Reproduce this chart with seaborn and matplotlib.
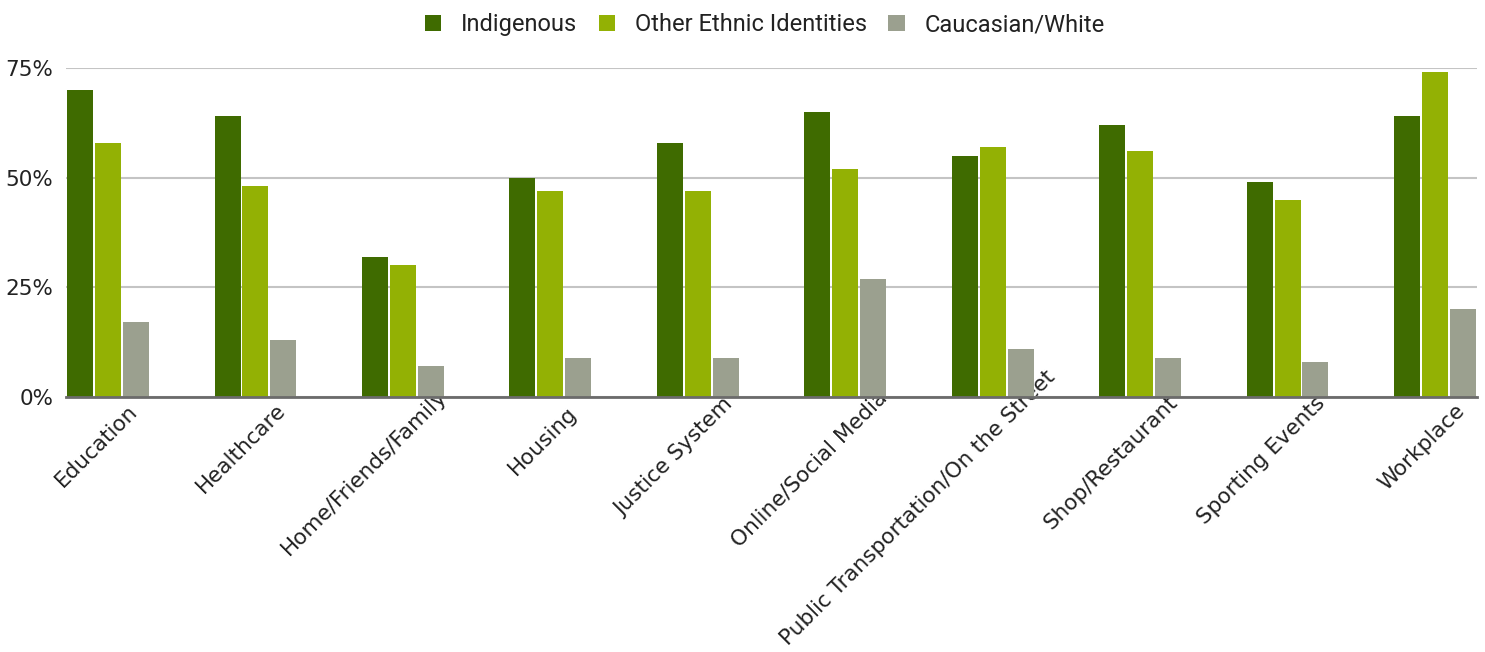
import matplotlib
matplotlib.use("Agg")
import matplotlib.pyplot as plt
import matplotlib.transforms as mtransforms
from matplotlib.ticker import FuncFormatter
import seaborn as sns
import pandas as pd

categories = ["Education", "Healthcare", "Home/Friends/Family", "Housing", "Justice System",
              "Online/Social Media", "Public Transportation/On the Street", "Shop/Restaurant",
              "Sporting Events", "Workplace"]
indigenous = [70, 64, 32, 50, 58, 65, 55, 62, 49, 64]
other_ethnic = [58, 48, 30, 47, 47, 52, 57, 56, 45, 74]
caucasian = [17, 13, 7, 9, 9, 27, 11, 9, 8, 20]
series_names = ["Indigenous", "Other Ethnic Identities", "Caucasian/White"]
yticks = [0, 25, 50, 75]

colors = ["#3f6b00", "#93b104", "#9ba08f"]

rows = []
for name, vals in zip(series_names, [indigenous, other_ethnic, caucasian]):
    for c, v in zip(categories, vals):
        rows.append({"Category": c, "Series": name, "Value": v})
df = pd.DataFrame(rows)

sns.set_theme(style="white")
plt.rcParams['font.family'] = ['DejaVu Sans']

fig = plt.figure(figsize=(14.85, 6.52), dpi=100)
ax = fig.add_axes([66/1485, 255/652, (1477-66)/1485, (397-68)/652])

sns.barplot(data=df, x="Category", y="Value", hue="Series", order=categories,
            hue_order=series_names, palette=colors, width=0.568, gap=0.07,
            ax=ax, saturation=1, linewidth=0, errorbar=None)

ax.set_ylim(0, 75)
ax.set_xlim(-0.285, 9.285)
ax.set_yticks(yticks)
ax.yaxis.set_major_formatter(FuncFormatter(lambda v, p: f"{int(v)}%"))
ax.grid(axis="y", color="#c4c4c4", linewidth=1.5)
ax.set_axisbelow(True)
for s in ["top", "right", "left"]:
    ax.spines[s].set_visible(False)
ax.spines["bottom"].set_color("#6b6b6b")
ax.spines["bottom"].set_linewidth(2)
ax.spines["bottom"].set_zorder(5)
ax.set_xlabel("")
ax.set_ylabel("")
ax.tick_params(axis="y", length=0, pad=9, labelsize=15.5, labelcolor="#222222")
ax.tick_params(axis="x", length=0, pad=0, labelsize=15.5, labelcolor="#222222")

for lab in ax.get_xticklabels():
    lab.set_rotation(45)
    lab.set_ha("right")
    lab.set_va("center")
    lab.set_rotation_mode("anchor")

fig.canvas.draw()
renderer = fig.canvas.get_renderer()
for lab in ax.get_xticklabels():
    bb = lab.get_window_extent(renderer)
    L = bb.width * 1.4142
    dx = 26 + 0.12 * (L - 125)
    dy = -11 + 0.125 * (L - 125)
    lab.set_transform(lab.get_transform() + mtransforms.ScaledTranslation(dx/100, dy/100, fig.dpi_scale_trans))

leg = ax.legend(loc="upper center", bbox_to_anchor=(765/1485, (652+8)/652), bbox_transform=fig.transFigure,
                ncol=3, frameon=False, handlelength=0.7, handleheight=0.7,
                handletextpad=0.85, columnspacing=0.9, prop={"family": "Roboto", "size": 17})
for t in leg.get_texts():
    t.set_color("#222222")

fig.savefig("out.png", dpi=100)
